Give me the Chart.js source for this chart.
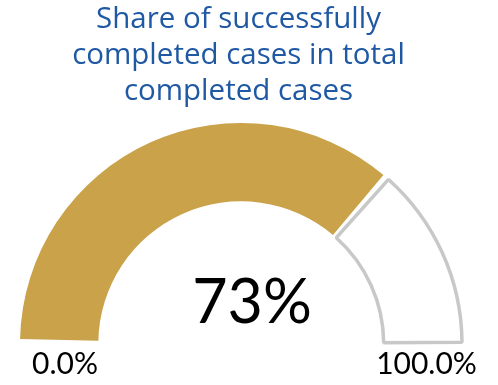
<!DOCTYPE html>
<html>
<head>
<meta charset="utf-8">
<script src="https://cdn.jsdelivr.net/npm/chart.js@4/dist/chart.umd.min.js"></script>
<style>
  html, body { margin: 0; padding: 0; background: #ffffff; }
  #wrap { width: 498px; height: 385px; position: relative; }
</style>
</head>
<body>
<div id="wrap"><canvas id="gauge" width="498" height="385"></canvas></div>
<script>
// Gauge data
const titleLines = ['Share of successfully', 'completed cases in total', 'completed cases'];
const segmentLabels = ['Successfully completed', 'Other'];
const shareValue = [73];
const scaleMin = [0.0];
const scaleMax = [100.0];

const gaugeValues = [shareValue[0] - scaleMin[0], scaleMax[0] - shareValue[0]];

const GOLD = '#C9A24A';
const GREY = '#C8C8C8';
const BLUE = '#1F58A3';

// Title, centre value and the two scale-end labels
const gaugeText = {
  id: 'gaugeText',
  afterDraw(chart) {
    const ctx = chart.ctx;
    const arc = chart.getDatasetMeta(0).data[0];
    const cx = arc.x, cy = arc.y;
    ctx.save();
    ctx.textAlign = 'center';
    ctx.textBaseline = 'alphabetic';

    ctx.fillStyle = BLUE;
    ctx.font = '29.5px "Open Sans"';
    titleLines.forEach((line, i) => ctx.fillText(line, 238.5, 27.5 + i * 36.3));

    ctx.fillStyle = '#000000';
    ctx.font = '61px Lato';
    ctx.fillText(shareValue[0] + '%', cx + 11, cy - 21.5);

    ctx.font = '30px Lato';
    ctx.fillText(scaleMin[0].toFixed(1) + '%', cx - 176, cy + 29.5);
    ctx.fillText(scaleMax[0].toFixed(1) + '%', cx + 185.5, cy + 29.5);
    ctx.restore();
  }
};

new Chart(document.getElementById('gauge'), {
  type: 'doughnut',
  data: {
    labels: segmentLabels,
    datasets: [{
      data: gaugeValues,
      backgroundColor: [GOLD, '#FFFFFF'],
      borderColor: [GOLD, GREY],
      borderWidth: [0, 3.5],
      hoverBorderWidth: [0, 3.5],
      spacing: 7
    }]
  },
  options: {
    responsive: false,
    animation: false,
    rotation: -90,
    circumference: 180,
    cutout: '64%',
    layout: { padding: { left: 18.25, right: 34.25, top: 121, bottom: 35.5 } },
    plugins: {
      legend: { display: false },
      tooltip: { enabled: false },
      title: { display: false }
    }
  },
  plugins: [gaugeText]
});
</script>
</body>
</html>
